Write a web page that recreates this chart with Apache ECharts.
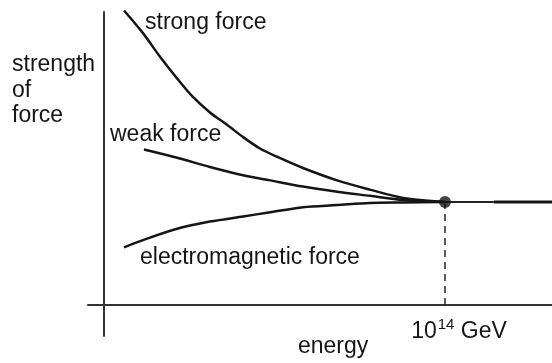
<!DOCTYPE html>
<html>
<head>
<meta charset="utf-8">
<script src="https://cdn.jsdelivr.net/npm/echarts@6/dist/echarts.min.js"></script>
<style>
  html, body { margin: 0; padding: 0; background: #fff; }
  #chart { width: 552px; height: 363px; }
</style>
</head>
<body>
<div id="chart"></div>
<script>
// x: log10(energy / GeV); y: relative strength of the interaction
const strongForce = [
  [0.82, 2.86], [1.60, 2.64], [2.30, 2.41], [3.00, 2.20], [3.65, 2.02],
  [4.35, 1.87], [5.05, 1.75], [5.71, 1.63], [6.40, 1.52], [7.10, 1.44],
  [8.17, 1.33], [9.57, 1.21], [10.92, 1.12], [12.28, 1.04], [14, 1.0]
];
const weakForce = [
  [1.64, 1.51], [3.00, 1.43], [4.35, 1.34], [5.71, 1.26], [6.82, 1.21],
  [8.17, 1.15], [9.57, 1.10], [10.92, 1.06], [12.28, 1.02], [14, 1.0]
];
const emForce = [
  [0.82, 0.56], [1.60, 0.63], [3.00, 0.74], [4.35, 0.81], [5.71, 0.86],
  [6.82, 0.90], [8.17, 0.95], [9.57, 0.97], [10.92, 0.99], [12.28, 0.995], [14, 1.0]
];
// single unified force beyond the crossing point
const unifiedNear = [[14, 1.0], [16, 1.0]];
const unifiedFar = [[16, 1.0], [18.4, 1.0]];
const unificationPoint = [[14, 1.0]];
const unificationDrop = [[14, 1.0], [14, 0]];
const xTickValues = [14];

const FONT = '"Liberation Sans", Arial, Helvetica, sans-serif';
const INK = '#151515';
const SIZE = 23;

const chart = echarts.init(document.getElementById('chart'));

function curve(data) {
  return {
    type: 'line', data: data, smooth: 0.3, showSymbol: false, clip: false,
    lineStyle: { color: INK, width: 2.5 }, silent: true
  };
}

function label(text, x, baseline) {
  return {
    type: 'text', x: x, y: baseline - SIZE * 0.345,
    style: { text: text, font: SIZE + 'px ' + FONT, fill: INK, verticalAlign: 'middle', align: 'left' }
  };
}

chart.setOption({
  animation: false,
  grid: { left: 88, right: 0, top: 12, bottom: 27, outerBoundsMode: 'none', containLabel: false },
  xAxis: {
    type: 'value', min: -0.657, max: 18.393,
    axisLine: { onZero: true, lineStyle: { color: '#333', width: 2 } },
    axisTick: { show: false },
    splitLine: { show: false },
    axisLabel: {
      customValues: xTickValues,
      margin: -19,
      padding: [0, 0, 0, 28],
      formatter: v => '{n|10}{s|' + v + '}{n| GeV}',
      rich: {
        n: { fontSize: SIZE, fontFamily: FONT, color: INK, lineHeight: 26, verticalAlign: 'bottom' },
        s: { fontSize: 15, fontFamily: FONT, color: INK, lineHeight: 26, verticalAlign: 'top', padding: [0, 0, 6, 1] }
      }
    }
  },
  yAxis: {
    type: 'value', min: -0.301, max: 2.845,
    axisLine: { onZero: true, lineStyle: { color: '#333', width: 2 } },
    axisTick: { show: false },
    splitLine: { show: false },
    axisLabel: { show: false }
  },
  series: [
    curve(strongForce),
    curve(weakForce),
    curve(emForce),
    { type: 'line', data: unifiedNear, showSymbol: false, lineStyle: { color: '#222', width: 2 }, silent: true },
    { type: 'line', data: unifiedFar, showSymbol: false, lineStyle: { color: INK, width: 3 }, silent: true },
    { type: 'line', data: unificationDrop, showSymbol: false, lineStyle: { color: '#222', width: 1.5, type: [7, 5] }, silent: true },
    { type: 'scatter', data: unificationPoint, symbolSize: 12, itemStyle: { color: INK }, silent: true, z: 5 }
  ],
  graphic: [
    label('strong force', 145, 31),
    label('weak force', 110, 143),
    label('electromagnetic force', 140, 266),
    label('strength', 12, 73),
    label('of', 12, 99),
    label('force', 12, 124),
    label('energy', 298, 355)
  ]
});
</script>
</body>
</html>
